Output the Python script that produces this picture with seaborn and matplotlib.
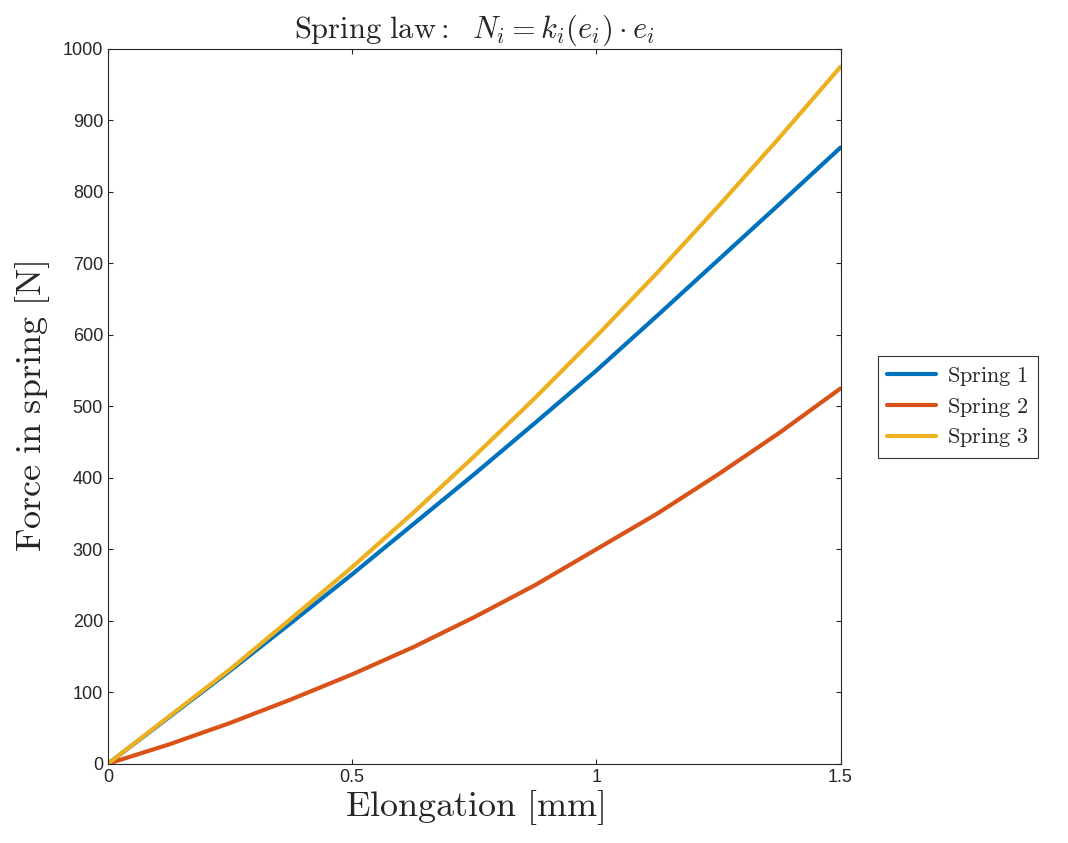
import numpy as np
import pandas as pd
import matplotlib
matplotlib.use('Agg')
import matplotlib.pyplot as plt
import seaborn as sns

# values
elongation = [0, 0.125, 0.25, 0.375, 0.5, 0.625, 0.75, 0.875, 1.0, 1.125, 1.25, 1.375, 1.5]
spring1 = [0, 65, 130, 197, 265, 335, 405, 477, 550, 627, 705, 783, 862]
spring2 = [0, 27, 57, 90, 125, 163, 205, 250, 300, 350, 405, 463, 525]
spring3 = [0, 66, 132, 203, 275, 351, 430, 512, 598, 687, 780, 876, 975]
names = ['Spring 1', 'Spring 2', 'Spring 3']
colors = ['#0072BD', '#D95319', '#EDB120']

df = pd.DataFrame({'e': elongation * 3,
                   'N': spring1 + spring2 + spring3,
                   'spring': sum([[n] * len(elongation) for n in names], [])})

sns.set_style('ticks')
plt.rcParams['font.family'] = ['Liberation Sans', 'DejaVu Sans']
plt.rcParams['mathtext.fontset'] = 'cm'

fig = plt.figure(figsize=(10.68, 8.43), dpi=100)
ax = fig.add_axes([0.101, 0.094, 0.686, 0.848])
sns.lineplot(data=df, x='e', y='N', hue='spring', palette=colors, linewidth=3, ax=ax)

ax.set_xlim(0, 1.5)
ax.set_ylim(0, 1000)
ax.set_xticks([0, 0.5, 1, 1.5])
ax.set_xticklabels(['0', '0.5', '1', '1.5'])
ax.set_yticks(range(0, 1001, 100))
ax.tick_params(labelsize=13, direction='in', top=True, right=True)
for s in ax.spines.values():
    s.set_linewidth(0.8)

ax.set_xlabel(r'$\mathrm{Elongation\ [mm]}$', fontsize=26, labelpad=2)
ax.set_ylabel(r'$\mathrm{Force\ in\ spring\ [N]}$', fontsize=26, labelpad=8)
ax.set_title(r'$\mathrm{Spring\ law{:}}\ \ N_i = k_i(e_i)\cdot e_i$', fontsize=22, pad=8)

leg = ax.legend(loc='center left', bbox_to_anchor=(0.812, 0.517), bbox_transform=fig.transFigure,
                fontsize=16, frameon=True, fancybox=False, edgecolor='black',
                handlelength=2.2, handletextpad=0.5, borderpad=0.4, labelspacing=0.35)
for t in leg.get_texts():
    t.set_text(r'$\mathrm{' + t.get_text().replace(' ', r'\ ') + '}$')
leg.get_frame().set_linewidth(0.8)

fig.savefig('out.png', dpi=100)
